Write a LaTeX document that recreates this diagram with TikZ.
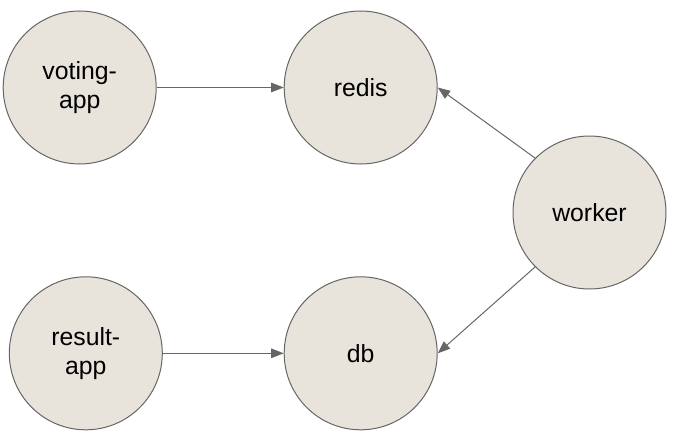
\documentclass[tikz,border=0pt]{standalone}
\usepackage{fontspec}
\setmainfont{Liberation Sans}
\usetikzlibrary{arrows.meta}
\definecolor{nodefill}{RGB}{232,228,220}
\definecolor{edgegray}{RGB}{102,102,102}
\begin{document}
\begin{tikzpicture}[x=1pt,y=-1pt,
  svc/.style={circle, draw=edgegray, fill=nodefill, line width=1pt,
    minimum size=153pt, inner sep=0pt, align=center,
    font=\fontsize{24.8pt}{28.6pt}\selectfont},
  link/.style={draw=edgegray, line width=1pt,
    -{Triangle[length=12.5pt,width=9.5pt]}}]
\useasboundingbox (0,0) rectangle (673,439);
\node[svc] (voting) at (79.7,87.5) {voting-\\app};
\node[svc] (redis) at (360.7,87.5) {redis};
\node[svc] (worker) at (589.5,212.5) {worker};
\node[svc] (result) at (85.8,353.3) {result-\\app};
\node[svc] (db) at (360.7,353.3) {db};
\draw[link] (voting.east) -- (redis.west);
\draw[link] (result.east) -- (db.west);
\draw[link] (worker.north west) -- (redis.east);
\draw[link] (worker.south west) -- (db.east);
\end{tikzpicture}
\end{document}
